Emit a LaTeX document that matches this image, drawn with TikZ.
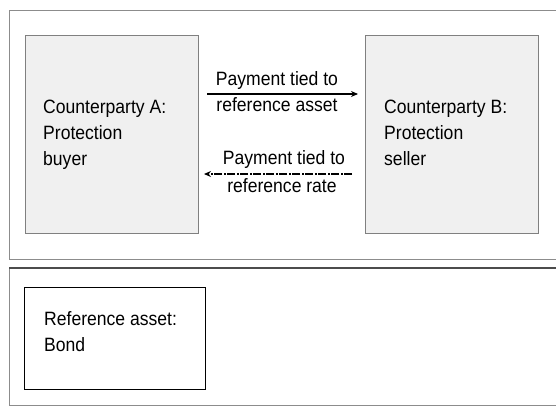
\documentclass[tikz,border=0pt]{standalone}
\usepackage{fontspec}
\setmainfont{Liberation Sans}[FakeStretch=0.91]
\usetikzlibrary{arrows.meta}
\begin{document}
\begin{tikzpicture}[x=1pt,y=-1pt,
  frame/.style={draw=black!45, line width=1.3pt, fill=white},
  party/.style={draw=black!50, line width=1pt, fill=black!6, anchor=north west, inner sep=0pt},
  assetbox/.style={draw=black, line width=1pt, fill=white, anchor=north west, inner sep=0pt},
  txt/.style={font=\fontsize{19.3pt}{26pt}\selectfont, inner sep=0pt, anchor=base west, align=left},
  lbl/.style={font=\fontsize{19.3pt}{26pt}\selectfont, inner sep=0pt, anchor=base},
  flow/.style={line width=1.1pt, -{Stealth[length=7pt,width=6pt]}},
  backflow/.style={flow, dash pattern=on 8pt off 1.5pt on 2pt off 1.5pt}
]
\useasboundingbox (0,0) rectangle (556,410);
\fill[white] (0,0) rectangle (556,410);

% outer panels
\node[frame, anchor=north west, inner sep=0pt, minimum width=552pt, minimum height=249pt] (top) at (9,9.5) {};
\node[frame, anchor=north west, inner sep=0pt, minimum width=552pt, minimum height=137pt] (bottom) at (9,268) {};
\draw[black!70, line width=1.5pt] (bottom.north west) -- (bottom.north east);

% counterparties (multi-line text is placed by the baseline of its last line)
\node[party, minimum width=173pt, minimum height=198pt] (A) at (25,34.5) {};
\node[party, minimum width=173pt, minimum height=198pt] (B) at (365,34.5) {};
\node[txt] (Atext) at (43,165) {Counterparty A:\\Protection\\buyer};
\node[txt] (Btext) at (384,165) {Counterparty B:\\Protection\\seller};

% payment flows
\coordinate (p1s) at ([shift={(8,-40)}]A.east);
\coordinate (p1e) at ([shift={(-7,-40)}]B.west);
\coordinate (p2s) at ([shift={(-13,40)}]B.west);
\coordinate (p2e) at ([shift={(5,40)}]A.east);
\draw[flow] (p1s) -- (p1e);
\draw[backflow] (p2s) -- (p2e);
\node[lbl] (l1a) at (277,85) {Payment tied to};
\node[lbl] (l1b) at (277,111) {reference asset};
\node[lbl] (l2a) at (284,164) {Payment tied to};
\node[lbl] (l2b) at (282,192) {reference rate};

% reference asset
\node[assetbox, minimum width=181pt, minimum height=102pt] (bond) at (24,287) {};
\node[txt] (bondtext) at (44,351) {Reference asset:\\Bond};
\end{tikzpicture}
\end{document}
